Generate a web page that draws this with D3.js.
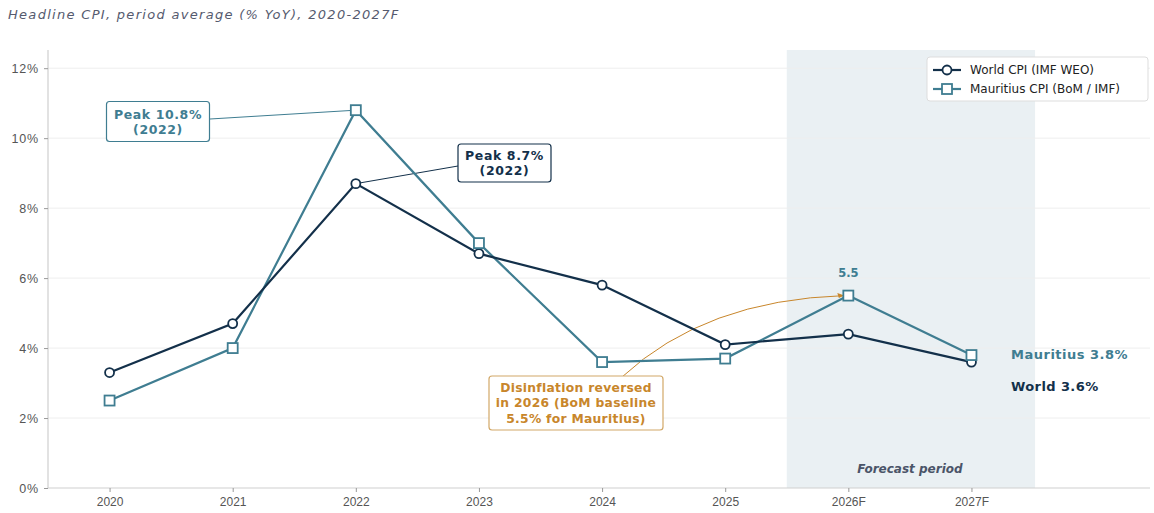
<!DOCTYPE html>
<html><head><meta charset="utf-8">
<script src="https://cdn.jsdelivr.net/npm/d3@7"></script>
<style>body{margin:0;background:#fff;} svg{display:block;font-family:"DejaVu Sans",sans-serif;}</style>
</head><body>
<svg id="c" width="1154" height="513"></svg>
<script>
const years = ["2020","2021","2022","2023","2024","2025","2026F","2027F"];
const worldCPI = [3.3, 4.7, 8.7, 6.7, 5.8, 4.1, 4.4, 3.6];
const mauritiusCPI = [2.5, 4.0, 10.8, 7.0, 3.6, 3.7, 5.5, 3.8];
const yTicks = [0, 2, 4, 6, 8, 10, 12];
const seriesNames = ["World CPI (IMF WEO)", "Mauritius CPI (BoM / IMF)"];

const navy = "#13304a", teal = "#3f7d91", orange = "#c8862b";
const svg = d3.select("#c");
const m = {l:48, r:4, t:50, b:25};
const W = 1154, H = 513;
const x = d3.scaleLinear().domain([-0.5, 8.45]).range([m.l, W - m.r]);
const y = d3.scaleLinear().domain([0, 12.52]).range([H - m.b, m.t]);

// title
svg.append("text").attr("x", 8).attr("y", 19).attr("font-size", 13).attr("font-style","italic")
  .attr("letter-spacing", 1.3).attr("fill", "#555a6e").text("Headline CPI, period average (% YoY), 2020-2027F");

// forecast shading
svg.append("rect").attr("x", x(5.5)).attr("y", m.t).attr("width", x(7.5) - x(5.5) + 2)
  .attr("height", y(0) - m.t).attr("fill", "#e8eef2").attr("opacity", 0.9);

// grid
svg.append("g").selectAll("line").data(yTicks.slice(1)).join("line")
  .attr("x1", m.l).attr("x2", W - m.r).attr("y1", d => y(d)).attr("y2", d => y(d))
  .attr("stroke", "#eeeeee").attr("stroke-width", 1);

// axes
const yAxis = d3.axisLeft(y).tickValues(yTicks).tickFormat(d => d + "%").tickSize(4).tickPadding(5);
const gy = svg.append("g").attr("transform", `translate(${m.l},0)`).call(yAxis);
const xAxis = d3.axisBottom(x).tickValues(d3.range(years.length)).tickFormat(i => years[i]).tickSize(4).tickPadding(5);
const gx = svg.append("g").attr("transform", `translate(0,${y(0)})`).call(xAxis);
[gx, gy].forEach(g => {
  g.select(".domain").attr("stroke", "#cfcfcf").attr("stroke-width", 1.2);
  g.selectAll(".tick line").attr("stroke", "#999");
  g.selectAll(".tick text").attr("fill", "#555");
});
gx.selectAll(".tick text").attr("font-size", 12);
gy.selectAll(".tick text").attr("font-size", 12.5).attr("letter-spacing", 0.8);
gx.select(".domain").attr("d", `M${m.l},0H${W - m.r}`);
gy.select(".domain").attr("d", `M0,${y(0)}V${m.t}`);

svg.append("text").attr("x", (x(5.5) + x(7.5)) / 2).attr("y", y(0) - 15).attr("text-anchor", "middle")
  .attr("font-size", 12).attr("font-weight", "bold").attr("font-style", "italic").attr("fill", "#4a5468").text("Forecast period");

// annotation connectors (under markers)
svg.append("line").attr("x1", 210).attr("y1", 119).attr("x2", x(2)).attr("y2", y(10.8))
  .attr("stroke", teal).attr("stroke-width", 1);
svg.append("line").attr("x1", 458).attr("y1", 166).attr("x2", x(2)).attr("y2", y(8.7))
  .attr("stroke", navy).attr("stroke-width", 1);
// curved arrow (orange)
const ax0 = 622, ay0 = 377, ax1 = x(6) - 4, ay1 = y(5.5);
svg.append("path").attr("d", `M${ax0},${ay0} Q${705},${300} ${ax1},${ay1}`)
  .attr("fill", "none").attr("stroke", orange).attr("stroke-width", 1);
svg.append("path").attr("d", `M${ax1},${ay1} l-7,-2.5 l1.5,5 z`).attr("fill", orange);

// lines
const line = d3.line().x((d, i) => x(i)).y(d => y(d));
svg.append("path").datum(mauritiusCPI).attr("d", line).attr("fill", "none")
  .attr("stroke", teal).attr("stroke-width", 2.2);
svg.append("path").datum(worldCPI).attr("d", line).attr("fill", "none")
  .attr("stroke", navy).attr("stroke-width", 2.2);

svg.append("g").selectAll("circle").data(worldCPI).join("circle")
  .attr("cx", (d, i) => x(i)).attr("cy", d => y(d)).attr("r", 4.5)
  .attr("fill", "#fff").attr("stroke", navy).attr("stroke-width", 1.8);
svg.append("g").selectAll("rect").data(mauritiusCPI).join("rect")
  .attr("x", (d, i) => x(i) - 5).attr("y", d => y(d) - 5).attr("width", 10).attr("height", 10)
  .attr("fill", "#fff").attr("stroke", teal).attr("stroke-width", 1.8);

// 5.5 label
svg.append("text").attr("x", x(6)).attr("y", y(5.5) - 19).attr("text-anchor", "middle")
  .attr("font-size", 11.5).attr("font-weight", 600).attr("fill", teal).text(mauritiusCPI[6].toFixed(1));

// end labels
svg.append("text").attr("x", 1011).attr("y", y(3.8) + 4).attr("font-size", 13).attr("font-weight", "bold")
  .attr("fill", teal).attr("letter-spacing", 0.5).text(`Mauritius ${mauritiusCPI[7].toFixed(1)}%`);
svg.append("text").attr("x", 1011).attr("y", y(3.6) + 29).attr("font-size", 13).attr("font-weight", "bold")
  .attr("fill", navy).attr("letter-spacing", 0.4).text(`World ${worldCPI[7].toFixed(1)}%`);

// boxes
function box(cx, cy, w, h, lines, color, stroke, fs, ls, lh) {
  const g = svg.append("g");
  g.append("rect").attr("x", cx - w / 2).attr("y", cy - h / 2).attr("width", w).attr("height", h)
    .attr("rx", 3).attr("fill", "#fff").attr("stroke", stroke).attr("stroke-width", 1.2);
  lines.forEach((t, i) => {
    g.append("text").attr("x", cx).attr("y", cy - (lines.length - 1) * lh / 2 + i * lh + fs * 0.36)
      .attr("text-anchor", "middle").attr("font-size", fs).attr("font-weight", "bold")
      .attr("letter-spacing", ls).attr("fill", color).text(t);
  });
}
box(158, 121.5, 103, 40, [`Peak ${mauritiusCPI[2]}%`, "(2022)"], teal, teal, 12.5, 0.6, 15);
box(504.5, 163, 93, 38, [`Peak ${worldCPI[2]}%`, "(2022)"], navy, navy, 12.5, 0.6, 15);
box(576, 403, 174, 54, ["Disinflation reversed", "in 2026 (BoM baseline", "5.5% for Mauritius)"], orange, "#d2a868", 12.3, 0.3, 15.5);

// legend
const lg = svg.append("g");
lg.append("rect").attr("x", 927).attr("y", 57).attr("width", 221).attr("height", 44).attr("rx", 3)
  .attr("fill", "#fff").attr("stroke", "#dddddd");
[[navy, "circle"], [teal, "square"]].forEach(([c, s], i) => {
  const yy = 70 + i * 19;
  lg.append("line").attr("x1", 933).attr("x2", 961).attr("y1", yy).attr("y2", yy).attr("stroke", c).attr("stroke-width", 2.2);
  if (s === "circle") lg.append("circle").attr("cx", 947).attr("cy", yy).attr("r", 4.5).attr("fill", "#fff").attr("stroke", c).attr("stroke-width", 1.8);
  else lg.append("rect").attr("x", 942).attr("y", yy - 5).attr("width", 10).attr("height", 10).attr("fill", "#fff").attr("stroke", c).attr("stroke-width", 1.8);
  lg.append("text").attr("x", 970).attr("y", yy + 4).attr("font-size", 12).attr("fill", "#222").text(seriesNames[i]);
});
</script>
</body></html>
